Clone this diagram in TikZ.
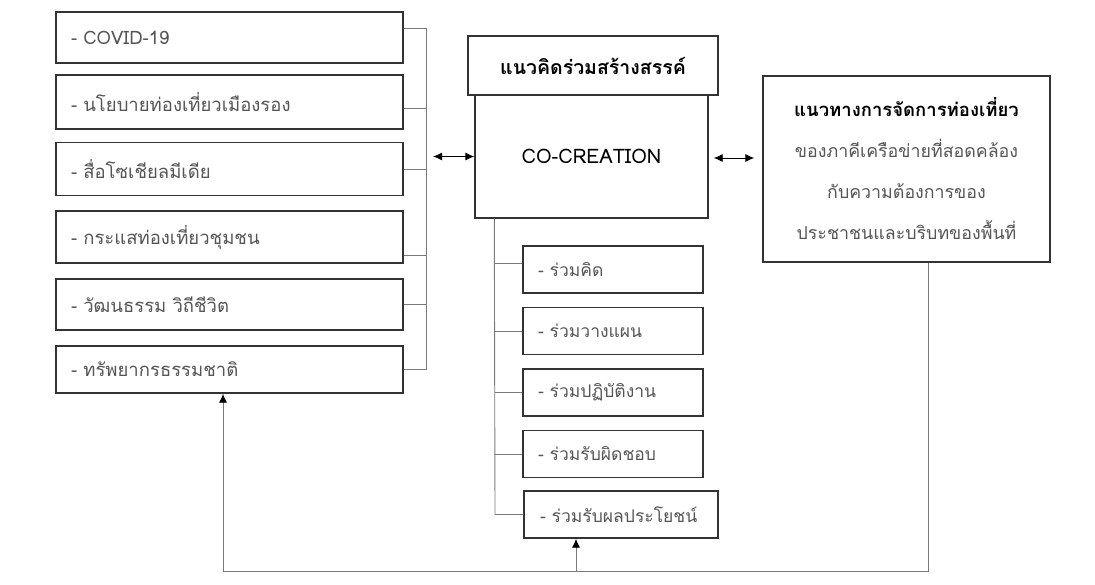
\documentclass[tikz,border=0pt]{standalone}
\usepackage{fontspec}
\setmainfont[Script=Thai]{Loma}
\usepackage{xcolor}
\usepackage{tikz}
\usetikzlibrary{arrows.meta}

\definecolor{boxline}{HTML}{333333}
\definecolor{linkgray}{HTML}{7A7A7A}
\definecolor{itemtext}{HTML}{555555}

\begin{document}
\begin{tikzpicture}[x=1pt, y=-1pt,
        factor/.style={draw=boxline, line width=1.4pt, rectangle, minimum width=347pt, minimum height=51pt,
            inner xsep=15pt, text width=317pt, align=left, text=itemtext, font=\fontsize{18.5}{21}\selectfont},
        part/.style={draw=boxline, line width=1.4pt, rectangle, minimum width=180pt, minimum height=47pt,
            inner xsep=15pt, text width=150pt, align=left, text=itemtext, font=\fontsize{17.5}{20}\selectfont},
        link/.style={draw=linkgray, line width=0.9pt},
        arr/.style={black, line width=0.9pt},
        tip/.style={-{Latex[black, length=9pt, width=8pt]}}]
        \useasboundingbox (0,0) rectangle (1095,584);

        % Factors
        \node[factor] (b1) at (229.5, 37.5) {- COVID-19};
        \node[factor, minimum height=54pt] (b2) at (229.5, 102) {- นโยบายท่องเที่ยวเมืองรอง};
        \node[factor, minimum height=53pt] (b3) at (229.5, 169) {- สื่อโซเชียลมีเดีย};
        \node[factor, minimum height=52pt] (b4) at (229.5, 237) {- กระแสท่องเที่ยวชุมชน};
        \node[factor] (b5) at (229.5, 304.5) {- วัฒนธรรม วิถีชีวิต};
        \node[factor, minimum height=47pt] (b6) at (229.5, 369.5) {- ทรัพยากรธรรมชาติ};

        % Co-creation
        \node[draw=boxline, line width=1.4pt, rectangle, minimum width=250pt, minimum height=59pt,
            font=\fontsize{19.5}{22}\selectfont\bfseries] (title) at (593, 65.5) {แนวคิดร่วมสร้างสรรค์};
        \node[draw=boxline, line width=1.4pt, rectangle, minimum width=233pt, minimum height=123pt,
            font=\fontsize{20}{23}\selectfont] (co) at (591.5, 156.5) {CO-CREATION};

        % Management guideline
        \node[draw=boxline, line width=1.4pt, rectangle, minimum width=287pt, minimum height=186pt,
            align=center, text=itemtext, font=\fontsize{17.8}{41}\selectfont] (guide) at (906.5, 169)
            {\textcolor{black}{\fontsize{18.5}{41}\selectfont\bfseries แนวทางการจัดการท่องเที่ยว}\\ ของภาคีเครือข่ายที่สอดคล้อง\\
             กับความต้องการของ\\ ประชาชนและบริบทของพื้นที่};

        % Participation steps
        \node[part] (s1) at (613, 269.5) {- ร่วมคิด};
        \node[part] (s2) at (613, 331) {- ร่วมวางแผน};
        \node[part] (s3) at (613, 392.5) {- ร่วมปฏิบัติงาน};
        \node[part] (s4) at (613, 454) {- ร่วมรับผิดชอบ};
        \node[part, minimum width=194pt, text width=178pt, inner xsep=8pt] (s5) at (621, 514.5) {\hspace*{8pt}- ร่วมรับผลประโยชน์};

        % Bracket of factors
        \coordinate (bus) at (426, 369.5);
        \draw[link] ([yshift=9.5pt]b1.east) -| (bus) -- (b6.east);
        \draw[link] ([yshift=-6pt]b2.east) -- ([yshift=-6pt]b2.east -| bus);
        \draw[link] (b3.east) -- (b3.east -| bus);
        \draw[link] ([yshift=-18pt]b4.east) -- ([yshift=-18pt]b4.east -| bus);
        \draw[link] (b5.east) -- (b5.east -| bus);

        % Tree of steps
        \coordinate (tree) at (495, 514.5);
        \draw[link] ([xshift=20pt]co.south west) -- (tree) -- (s5.west);
        \draw[link] ([yshift=6.5pt]s1.west) -- ([yshift=6.5pt]s1.west -| tree);
        \draw[link] (s2.west) -- (s2.west -| tree);
        \draw[link] (s3.west) -- (s3.west -| tree);
        \draw[link] (s4.west) -- (s4.west -| tree);

        % Two-way arrows
        \draw[arr, {Latex[length=9pt, width=8pt]}-{Latex[length=9pt, width=8pt]}] ([xshift=7pt]bus |- co.west) -- (co.west);
        \draw[arr, {Latex[length=9pt, width=8pt]}-{Latex[length=9pt, width=8pt]}] ([xshift=5pt, yshift=-1.5pt]co.east) -- ([yshift=-1.5pt, xshift=-8pt]co.east -| guide.west);

        % Feedback loop
        \coordinate (loop) at (223, 571);
        \draw[link] ([xshift=21.5pt]guide.south) |- (loop);
        \draw[link, tip] (loop) -- ([xshift=-6.5pt]b6.south);
        \draw[link, tip] ([xshift=-45pt]s5.south |- loop) -- ([xshift=-45pt]s5.south);
    \end{tikzpicture}
\end{document}
